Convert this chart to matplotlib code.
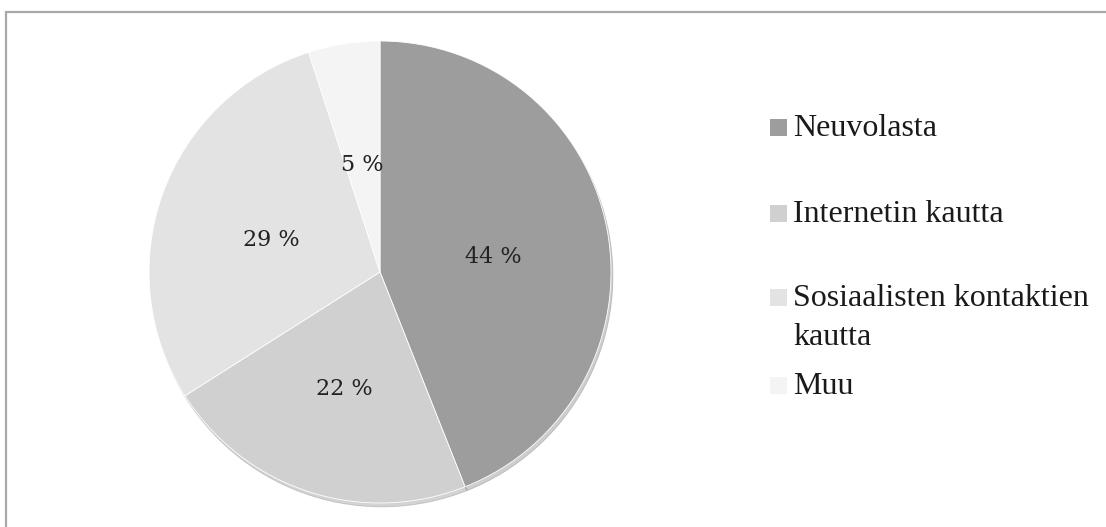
import matplotlib.pyplot as plt
from matplotlib.patches import Rectangle

# data
labels = ["Neuvolasta", "Internetin kautta", "Sosiaalisten kontaktien\nkautta", "Muu"]
values = [44, 22, 29, 5]
colors = ["#9d9d9d", "#d0d0d0", "#e3e3e3", "#f4f4f4"]

W, H = 1106, 527
fig = plt.figure(figsize=(W / 100, H / 100), dpi=100)

# outer frame (cut off at right and bottom like the source)
fig.patches.append(Rectangle((5.5 / W, -0.05), 1.2, 1 - 12 / H + 0.05,
                             transform=fig.transFigure, fill=False,
                             edgecolor="#a9a9a9", linewidth=1.6))

cx, cy, r = 380, 272, 231
ax = fig.add_axes([(cx - r) / W, 1 - (cy + r) / H, 2 * r / W, 2 * r / H])

wedges, texts, autotexts = ax.pie(
    values, colors=colors, startangle=90, counterclock=False,
    autopct=lambda p: f"{p:.0f} %", pctdistance=0.5,
    wedgeprops=dict(edgecolor="white", linewidth=0.6),
    shadow=dict(ox=0.006, oy=-0.012, shade=0.6, alpha=0.25),
    textprops=dict(family="DejaVu Serif", fontsize=16, color="#222222"))
for t in autotexts:
    x, y = t.get_position()
    t.set_position((x, y - 0.03))
ax.set_xlim(-1, 1)
ax.set_ylim(-1, 1)
ax.set_aspect("equal")
ax.axis("off")

# legend, laid out by hand (pixel baseline of first line of each entry)
first_baselines = [136, 222, 306, 394]
line_step = 39
sq = 17
for lab, col, yb in zip(labels, colors, first_baselines):
    fig.patches.append(Rectangle((770 / W, 1 - yb / H), sq / W, sq / H,
                                 transform=fig.transFigure,
                                 facecolor=col, edgecolor="none"))
    y_last = yb + line_step * lab.count("\n")
    fig.text(793 / W, 1 - y_last / H, lab, va="baseline", ha="left",
             family="Liberation Serif", fontsize=23, color="#1a1a1a",
             linespacing=1.45)

fig.savefig("out.png", dpi=100)
